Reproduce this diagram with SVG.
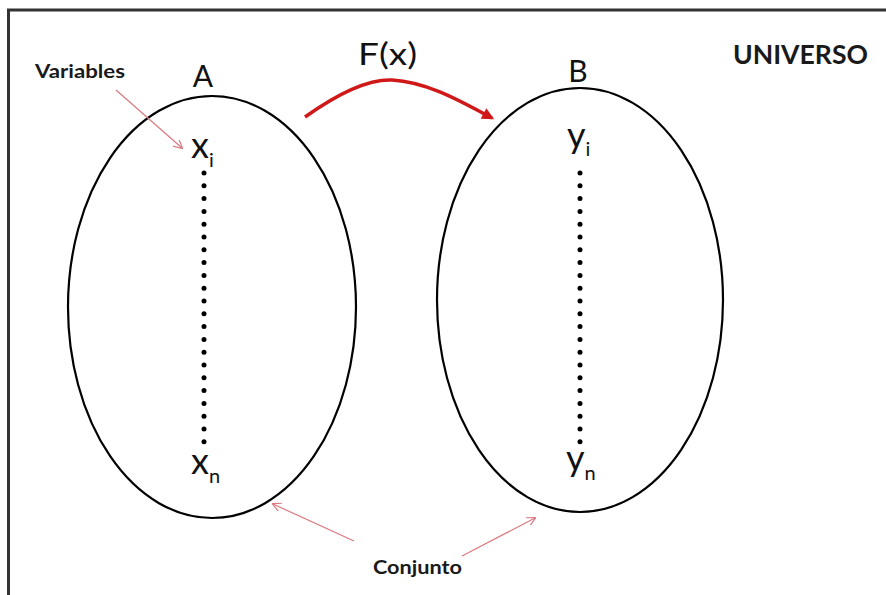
<svg xmlns="http://www.w3.org/2000/svg" width="886" height="595" viewBox="0 0 886 595">
<defs>
<style>
.set{fill:none;stroke:#000;stroke-width:2.2}
.lbl{font-family:Lato,"Open Sans","Liberation Sans",sans-serif;fill:#111}
.bold{font-family:Lato,"Open Sans","Liberation Sans",sans-serif;font-weight:bold;fill:#1a1a1a}
.thin{fill:none;stroke:#d9797f;stroke-width:1.2}
.dot{fill:#000}
</style>
<marker id="openHead" viewBox="0 0 10 10" refX="9" refY="5" markerWidth="9" markerHeight="9" markerUnits="userSpaceOnUse" orient="auto">
<path d="M0,0 L10,5 L0,10" fill="none" stroke="#d9797f" stroke-width="1.3"/>
</marker>
<marker id="redHead" viewBox="0 0 10 10" refX="8" refY="5" markerWidth="14" markerHeight="12" markerUnits="userSpaceOnUse" orient="auto">
<path d="M0,0 L10,5 L0,10 z" fill="#d01818"/>
</marker>
</defs>
<rect x="0" y="0" width="886" height="595" fill="#fff"/>
<path d="M8.5,600 L8.5,10 L900,10" fill="none" stroke="#333" stroke-width="3"/>
<g id="setA">
<ellipse class="set" cx="212" cy="307" rx="144" ry="211"/>
<text class="lbl" x="203" y="87" font-size="30" text-anchor="middle">A</text>
<text class="lbl" x="191" y="158" font-size="36">x<tspan font-size="20" dy="9">i</tspan></text>
<text class="lbl" x="191" y="474" font-size="36">x<tspan font-size="20" dy="9">n</tspan></text>
<g class="dot">
<circle cx="204" cy="173" r="2.5"/><circle cx="204" cy="185.8" r="2.5"/><circle cx="204" cy="198.6" r="2.5"/><circle cx="204" cy="211.4" r="2.5"/><circle cx="204" cy="224.2" r="2.5"/><circle cx="204" cy="237" r="2.5"/><circle cx="204" cy="249.8" r="2.5"/><circle cx="204" cy="262.6" r="2.5"/><circle cx="204" cy="275.4" r="2.5"/><circle cx="204" cy="288.2" r="2.5"/><circle cx="204" cy="301" r="2.5"/><circle cx="204" cy="313.8" r="2.5"/><circle cx="204" cy="326.6" r="2.5"/><circle cx="204" cy="339.4" r="2.5"/><circle cx="204" cy="352.2" r="2.5"/><circle cx="204" cy="365" r="2.5"/><circle cx="204" cy="377.8" r="2.5"/><circle cx="204" cy="390.6" r="2.5"/><circle cx="204" cy="403.4" r="2.5"/><circle cx="204" cy="416.2" r="2.5"/><circle cx="204" cy="429" r="2.5"/><circle cx="204" cy="441.8" r="2.5"/>
</g>
</g>
<g id="setB">
<ellipse class="set" cx="580" cy="300" rx="143" ry="212"/>
<text class="lbl" x="578" y="82" font-size="30" text-anchor="middle">B</text>
<text class="lbl" x="567" y="148" font-size="36">y<tspan font-size="20" dy="8">i</tspan></text>
<text class="lbl" x="566" y="471" font-size="36">y<tspan font-size="20" dy="9">n</tspan></text>
<g class="dot">
<circle cx="580" cy="173" r="2.5"/><circle cx="580" cy="185.8" r="2.5"/><circle cx="580" cy="198.6" r="2.5"/><circle cx="580" cy="211.4" r="2.5"/><circle cx="580" cy="224.2" r="2.5"/><circle cx="580" cy="237" r="2.5"/><circle cx="580" cy="249.8" r="2.5"/><circle cx="580" cy="262.6" r="2.5"/><circle cx="580" cy="275.4" r="2.5"/><circle cx="580" cy="288.2" r="2.5"/><circle cx="580" cy="301" r="2.5"/><circle cx="580" cy="313.8" r="2.5"/><circle cx="580" cy="326.6" r="2.5"/><circle cx="580" cy="339.4" r="2.5"/><circle cx="580" cy="352.2" r="2.5"/><circle cx="580" cy="365" r="2.5"/><circle cx="580" cy="377.8" r="2.5"/><circle cx="580" cy="390.6" r="2.5"/><circle cx="580" cy="403.4" r="2.5"/><circle cx="580" cy="416.2" r="2.5"/><circle cx="580" cy="429" r="2.5"/><circle cx="580" cy="441.8" r="2.5"/>
</g>
</g>
<g id="labels">
<text class="lbl" x="358" y="65" font-size="31" textLength="59" lengthAdjust="spacingAndGlyphs">F(x)</text>
<text class="bold" x="733" y="64" font-size="26" textLength="135" lengthAdjust="spacingAndGlyphs">UNIVERSO</text>
<text class="bold" x="35" y="78" font-size="18" textLength="90" lengthAdjust="spacingAndGlyphs">Variables</text>
<text class="bold" x="373" y="574" font-size="19" textLength="89" lengthAdjust="spacingAndGlyphs">Conjunto</text>
</g>
<g id="connectors">
<path d="M305,117 C340,92 368,79 392,80 C428,82 462,102 492,118" fill="none" stroke="#d01818" stroke-width="3.5" marker-end="url(#redHead)"/>
<path class="thin" d="M116,90 L182,148" marker-end="url(#openHead)"/>
<path class="thin" d="M354,541 L273,504" marker-end="url(#openHead)"/>
<path class="thin" d="M462,556 L535,518" marker-end="url(#openHead)"/>
</g>
</svg>
